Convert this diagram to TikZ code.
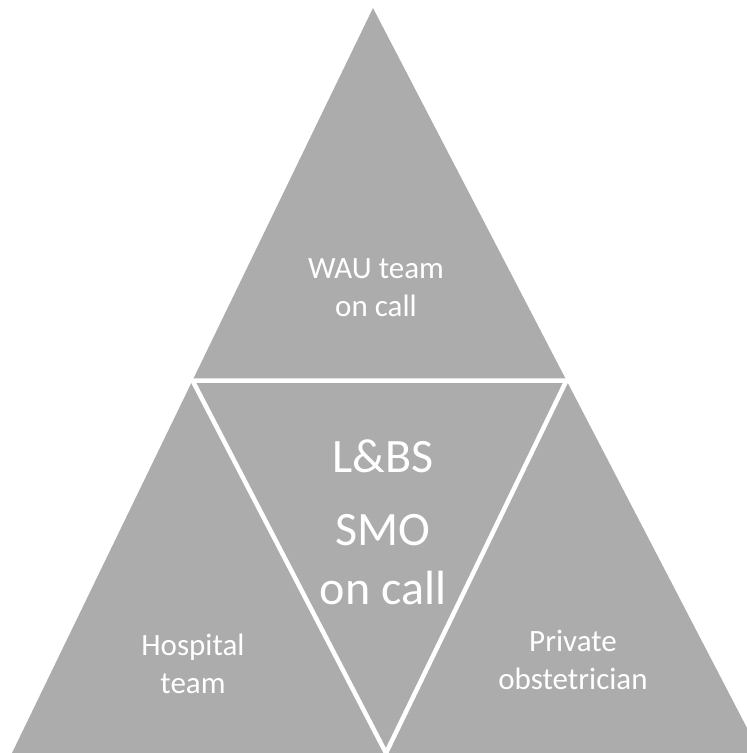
\documentclass[tikz,border=0pt]{standalone}
\usepackage{fontspec}
\setmainfont{Carlito}
\usetikzlibrary{calc}
\definecolor{tri}{RGB}{172,172,172}
\begin{document}
\begin{tikzpicture}[x=1pt,y=-1pt,
  lbl/.style={text=white,align=center,inner sep=0pt},
  small/.style={lbl,font=\fontsize{31}{38}\selectfont},
  big/.style={lbl,font=\fontsize{48}{59}\selectfont}]
\useasboundingbox (0,0) rectangle (747,753);
\clip (0,0) rectangle (747,753);
\coordinate (A) at (373,8);
\coordinate (BL) at (12,753);
\coordinate (BR) at (760,753);
\coordinate (ML) at ($(A)!0.5!(BL)$);
\coordinate (MR) at ($(A)!0.5!(BR)$);
\coordinate (MB) at ($(BL)!0.5!(BR)$);
\fill[tri] (A) -- (BL) -- (BR) -- cycle;
\draw[white,line width=4.5pt,line join=miter] (ML) -- (MR) -- (MB) -- cycle;
\node[small] (wau) at (376,288) {WAU team\\on call};
\node[small] (hosp) at (193,664) {Hospital\\team};
\node[small] (priv) at (573,660) {Private\\obstetrician};
\node[big] (smo) at (383,522) {L\&BS\\[14pt]SMO\\on call};
\end{tikzpicture}
\end{document}
